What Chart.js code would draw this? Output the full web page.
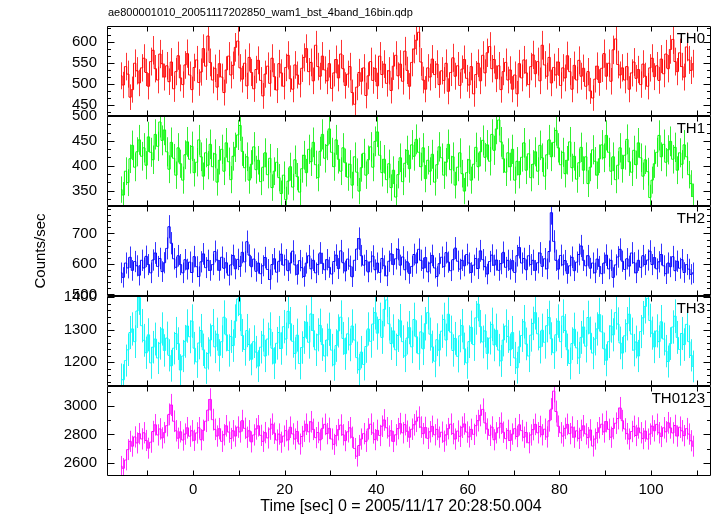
<!DOCTYPE html>
<html>
<head>
<meta charset="utf-8">
<title>ae800001010 WAM light curve</title>
<script src="https://cdn.jsdelivr.net/npm/chart.js@4.4.0/dist/chart.umd.min.js"></script>
<style>
  html, body { margin: 0; padding: 0; background: #fff; }
</style>
</head>
<body>
<canvas id="lc" width="717" height="516"></canvas>
<script>
// 0.5 s bins (16 x 1/32 s), bin centres start at firstBin
const binWidth = 0.5;
const firstBin = -15.75;

const plotTitle = 'ae800001010_20051117202850_wam1_bst_4band_16bin.qdp';
const xLabel = 'Time [sec] 0 = 2005/11/17 20:28:50.004';
const yLabel = 'Counts/sec';

const bandNames = ['TH0', 'TH1', 'TH2', 'TH3', 'TH0123'];

// count rates (counts/sec)
const th0 = [
  519, 497, 541, 523, 468, 486, 549, 531, 502, 538,
  561, 527, 494, 553, 580, 536, 509, 571, 548, 516,
  543, 505, 552, 488, 529, 567, 514, 498, 545, 572,
  521, 486, 539, 557, 503, 528, 584, 542, 614, 551,
  509, 537, 492, 548, 516, 479, 533, 566, 521, 544,
  587, 602, 538, 511, 549, 495, 563, 527, 488, 534,
  556, 508, 471, 523, 542, 501, 561, 517, 485, 548,
  526, 494, 539, 568, 512, 487, 545, 521, 499, 537,
  563, 584, 529, 551, 507, 592, 541, 518, 566, 533,
  507, 548, 489, 526, 558, 514, 571, 536, 496, 523,
  541, 479, 451, 492, 527, 506, 538, 472, 519, 553,
  508, 537, 495, 566, 522, 547, 501, 531, 484, 542,
  568, 519, 547, 506, 578, 532, 494, 551, 583, 604,
  623, 552, 509, 487, 538, 516, 559, 522, 547, 498,
  531, 508, 549, 482, 527, 562, 518, 543, 496, 535,
  558, 513, 497, 541, 476, 522, 549, 507, 568, 526,
  574, 589, 536, 558, 512, 543, 486, 529, 551, 509,
  533, 487, 521, 476, 548, 514, 557, 526, 498, 541,
  569, 524, 553, 507, 592, 545, 518, 563, 502, 539,
  521, 552, 496, 538, 514, 567, 529, 487, 544, 509,
  556, 518, 537, 494, 529, 483, 466, 511, 542, 503,
  537, 572, 518, 549, 506, 581, 607, 546, 521, 538,
  509, 541, 487, 526, 552, 513, 534, 498, 547, 518,
  494, 538, 561, 517, 543, 508, 559, 524, 571, 536,
  582, 606, 553, 529, 574, 541, 516, 588, 557, 532,
  548
];
const th1 = [
  352, 341, 389, 366, 414, 441, 397, 428, 452, 419,
  436, 401, 458, 427, 412, 463, 439, 488, 451, 472,
  428, 393, 447, 415, 381, 436, 404, 371, 422, 448,
  413, 439, 386, 407, 452, 418, 379, 426, 401, 443,
  398, 424, 367, 411, 433, 389, 446, 408, 372, 419,
  437, 462, 481, 429, 396, 418, 371, 403, 438, 392,
  411, 368, 397, 426, 382, 415, 356, 389, 407, 376,
  344, 381, 332, 369, 398, 357, 412, 378, 347, 394,
  421, 386, 433, 408, 447, 402, 376, 429, 463, 415,
  441, 474, 427, 398, 452, 413, 389, 436, 406, 377,
  403, 361, 418, 387, 349, 396, 425, 381, 412, 438,
  397, 449, 468, 421, 386, 413, 372, 404, 356, 391,
  337, 382, 416, 368, 405, 431, 394, 442, 419, 453,
  427, 398, 436, 374, 411, 389, 423, 367, 402, 438,
  416, 381, 407, 443, 392, 418, 361, 397, 426, 384,
  349, 386, 412, 371, 403, 437, 398, 428, 451, 417,
  442, 409, 463, 431, 474, 492, 448, 414, 387, 426,
  398, 433, 371, 409, 382, 417, 446, 391, 424, 376,
  403, 428, 389, 441, 416, 379, 422, 452, 418, 447,
  471, 436, 402, 427, 384, 411, 448, 396, 419, 373,
  406, 437, 391, 418, 364, 397, 432, 409, 381, 414,
  442, 416, 461, 427, 389, 418, 372, 401, 436, 394,
  421, 453, 408, 387, 431, 402, 446, 416, 379, 412,
  388, 336, 371, 404, 427, 461, 418, 443, 407, 432,
  449, 413, 437, 391, 426, 403, 442, 418, 382, 364,
  338
];
const th2 = [
  571, 556, 603, 587, 622, 579, 608, 594, 563, 612,
  587, 625, 598, 571, 613, 636, 592, 618, 575, 604,
  651, 722, 668, 617, 589, 627, 598, 571, 614, 583,
  606, 572, 624, 591, 559, 607, 633, 588, 612, 579,
  598, 641, 613, 579, 622, 586, 604, 563, 597, 628,
  584, 615, 592, 638, 607, 673, 629, 591, 616, 576,
  603, 568, 594, 621, 582, 549, 598, 617, 573, 609,
  632, 596, 614, 578, 603, 642, 597, 566, 611, 588,
  559, 603, 627, 584, 612, 571, 598, 636, 602, 581,
  614, 589, 567, 608, 629, 585, 643, 604, 577, 616,
  593, 558, 612, 649, 683, 627, 596, 611, 574, 607,
  626, 581, 603, 572, 618, 594, 561, 609, 633, 598,
  617, 648, 596, 623, 581, 607, 569, 592, 631, 603,
  648, 612, 586, 621, 574, 603, 628, 587, 559, 601,
  622, 591, 637, 606, 578, 614, 652, 609, 583, 612,
  594, 631, 603, 572, 596, 618, 585, 643, 614, 591,
  567, 608, 629, 596, 613, 579, 601, 638, 589, 612,
  583, 611, 572, 627, 654, 603, 618, 581, 627, 598,
  612, 579, 604, 636, 592, 617, 584, 641, 768, 674,
  612, 583, 628, 597, 611, 569, 594, 622, 578, 606,
  631, 659, 612, 594, 627, 586, 603, 571, 616, 592,
  568, 603, 629, 584, 612, 556, 597, 623, 648, 609,
  582, 617, 593, 636, 604, 571, 612, 589, 627, 598,
  613, 642, 598, 621, 584, 607, 631, 594, 568, 603,
  591, 624, 578, 609, 586, 614, 572, 598, 583, 566,
  571
];
const th3 = [
  1148, 1146, 1205, 1238, 1291, 1302, 1263, 1357, 1398, 1312,
  1267, 1229, 1284, 1198, 1246, 1271, 1213, 1258, 1302, 1236,
  1274, 1221, 1189, 1243, 1288, 1257, 1176, 1219, 1264, 1311,
  1278, 1326, 1243, 1201, 1259, 1297, 1238, 1182, 1227, 1268,
  1312, 1247, 1286, 1221, 1263, 1338, 1284, 1236, 1279, 1251,
  1326, 1394, 1347, 1282, 1239, 1297, 1254, 1209, 1263, 1231,
  1188, 1246, 1283, 1219, 1271, 1302, 1243, 1197, 1258, 1291,
  1242, 1309, 1271, 1356, 1318, 1264, 1227, 1283, 1196, 1245,
  1276, 1323, 1261, 1348, 1297, 1238, 1284, 1313, 1254, 1219,
  1268, 1301, 1237, 1192, 1251, 1296, 1338, 1273, 1226, 1287,
  1253, 1311, 1268, 1214, 1177, 1231, 1193, 1248, 1302, 1264,
  1317, 1352, 1289, 1331, 1276, 1362, 1391, 1318, 1257, 1296,
  1238, 1282, 1327, 1263, 1219, 1274, 1306, 1247, 1331, 1278,
  1226, 1293, 1241, 1318, 1352, 1286, 1247, 1203, 1269, 1237,
  1295, 1331, 1268, 1347, 1292, 1236, 1273, 1218, 1281, 1312,
  1241, 1198, 1263, 1307, 1254, 1336, 1378, 1309, 1262, 1296,
  1227, 1274, 1316, 1253, 1298, 1237, 1204, 1268, 1311, 1279,
  1238, 1291, 1213, 1183, 1247, 1282, 1324, 1256, 1219, 1283,
  1319, 1352, 1287, 1246, 1298, 1261, 1312, 1337, 1272, 1229,
  1284, 1326, 1263, 1341, 1297, 1238, 1196, 1257, 1301, 1244,
  1213, 1276, 1308, 1249, 1337, 1289, 1228, 1271, 1302, 1346,
  1293, 1241, 1206, 1263, 1311, 1284, 1352, 1317, 1259, 1228,
  1281, 1318, 1347, 1286, 1237, 1262, 1219, 1294, 1336, 1371,
  1396, 1328, 1289, 1247, 1296, 1263, 1324, 1271, 1234, 1202,
  1257, 1308, 1341, 1276, 1239, 1288, 1254, 1316, 1263, 1221,
  1187
];
const th0123 = [
  2578, 2563, 2621, 2694, 2752, 2718, 2783, 2741, 2806, 2769,
  2812, 2758, 2704, 2746, 2821, 2868, 2797, 2839, 2776, 2813,
  2862, 2941, 3007, 2893, 2826, 2774, 2819, 2761, 2803, 2847,
  2788, 2826, 2759, 2811, 2847, 2763, 2829, 2893, 2971, 3046,
  2904, 2836, 2789, 2841, 2752, 2798, 2861, 2817, 2772, 2826,
  2789, 2852, 2818, 2897, 2843, 2781, 2826, 2748, 2797, 2839,
  2861, 2794, 2752, 2813, 2776, 2838, 2872, 2809, 2761, 2803,
  2746, 2789, 2827, 2762, 2851, 2804, 2768, 2821, 2733, 2786,
  2823, 2872, 2819, 2889, 2836, 2778, 2814, 2762, 2843, 2871,
  2806, 2843, 2768, 2731, 2792, 2834, 2866, 2798, 2757, 2819,
  2847, 2781, 2702, 2648, 2723, 2768, 2806, 2752, 2839, 2872,
  2811, 2764, 2829, 2793, 2858, 2902, 2847, 2789, 2826, 2751,
  2798, 2841, 2876, 2812, 2869, 2823, 2781, 2837, 2868, 2893,
  2921, 2852, 2806, 2849, 2773, 2819, 2857, 2798, 2836, 2782,
  2816, 2753, 2797, 2841, 2872, 2806, 2768, 2824, 2787, 2851,
  2874, 2817, 2783, 2836, 2801, 2862, 2897, 2934, 2976, 2881,
  2838, 2794, 2852, 2763, 2812, 2847, 2879, 2816, 2771, 2829,
  2758, 2803, 2841, 2786, 2868, 2827, 2781, 2814, 2742, 2797,
  2834, 2871, 2812, 2856, 2798, 2837, 2783, 2896, 2978, 3104,
  2961, 2858, 2812, 2789, 2843, 2871, 2806, 2852, 2781, 2826,
  2773, 2829, 2861, 2804, 2778, 2832, 2719, 2768, 2813, 2847,
  2872, 2818, 2891, 2836, 2781, 2842, 2879, 2912, 2986, 2897,
  2839, 2806, 2768, 2821, 2857, 2793, 2846, 2812, 2771, 2824,
  2768, 2803, 2859, 2826, 2871, 2812, 2786, 2847, 2819, 2882,
  2846, 2811, 2863, 2789, 2851, 2826, 2792, 2841, 2803, 2756,
  2718
];
const bandRates = [th0, th1, th2, th3, th0123];

// axis ranges and labelled ticks
const xRange = [-18.8, 113.1];
const xTickLabels = [0, 20, 40, 60, 80, 100];
const yRanges = [[423, 638], [319, 500], [495, 790], [1127, 1403], [2509, 3140]];
const yTickLabels = [
  [450, 500, 550, 600],
  [350, 400, 450, 500],
  [500, 600, 700],
  [1200, 1300, 1400],
  [2600, 2800, 3000]
];
const minorDiv = [3, 3, 5, 5, 2];

const lineColors = ['#ff0000', '#00ff00', '#0000ff', '#00ffff', '#ff00ff'];
const errColors = ['rgba(255,0,0,0.8)', 'rgba(0,235,0,0.8)', 'rgba(0,0,255,0.8)',
                   'rgba(0,240,240,0.85)', 'rgba(255,0,255,0.8)'];

const FONT = "'Liberation Sans', Arial, Helvetica, sans-serif";

const times = th0.map((_, i) => firstBin + i * binWidth);

// error bars: Poisson error on the rate in each bin
const errorBars = {
  id: 'errorBars',
  beforeDatasetsDraw(chart) {
    const ctx = chart.ctx;
    const xs = chart.scales.x;
    chart.data.datasets.forEach((ds, k) => {
      const ys = chart.scales[ds.yAxisID];
      ctx.save();
      ctx.beginPath();
      ctx.rect(xs.left, ys.top, xs.right - xs.left, ys.bottom - ys.top);
      ctx.clip();
      ctx.strokeStyle = errColors[k];
      ctx.lineWidth = 1;
      ctx.beginPath();
      ds.data.forEach(p => {
        const err = Math.sqrt(p.y / binWidth);
        const px = Math.round(xs.getPixelForValue(p.x)) + 0.5;
        ctx.moveTo(px, ys.getPixelForValue(p.y + err));
        ctx.lineTo(px, ys.getPixelForValue(p.y - err));
      });
      ctx.stroke();
      ctx.restore();
    });
  }
};

// qdp style frames, inward ticks and the text labels
const qdpFrame = {
  id: 'qdpFrame',
  afterDraw(chart) {
    const ctx = chart.ctx;
    const xs = chart.scales.x;
    const L = Math.round(xs.left) + 0.5;
    const R = Math.round(xs.right) - 0.5;
    ctx.save();
    ctx.strokeStyle = '#000';
    ctx.lineWidth = 1;
    bandNames.forEach((name, k) => {
      const ys = chart.scales['y' + k];
      const T = Math.round(ys.top) + 0.5;
      const B = Math.round(ys.bottom) - 0.5;
      ctx.beginPath();
      ctx.rect(L, T, R - L, B - T);
      // x ticks every 10 s on top and bottom
      for (let t = -10; t <= xRange[1]; t += 10) {
        const px = Math.round(xs.getPixelForValue(t)) + 0.5;
        ctx.moveTo(px, T); ctx.lineTo(px, T + 5);
        ctx.moveTo(px, B); ctx.lineTo(px, B - 5);
      }
      // y major and minor ticks on both sides
      const labs = yTickLabels[k];
      const step = (labs[1] - labs[0]) / minorDiv[k];
      let v = labs[0];
      while (v - step >= yRanges[k][0]) v -= step;
      for (; v <= yRanges[k][1] + 1e-6; v += step) {
        const isMajor = labs.some(m => Math.abs(m - v) < 1e-6);
        const len = isMajor ? 7 : 3.5;
        const py = Math.round(ys.getPixelForValue(v)) + 0.5;
        ctx.moveTo(L, py); ctx.lineTo(L + len, py);
        ctx.moveTo(R, py); ctx.lineTo(R - len, py);
      }
      ctx.stroke();

      ctx.fillStyle = '#000';
      ctx.font = '15px ' + FONT;
      ctx.textAlign = 'right';
      ctx.textBaseline = 'alphabetic';
      ctx.fillText(name, xs.right - 6, ys.top + 17);
    });

    ctx.fillStyle = '#000';
    ctx.font = '11px ' + FONT;
    ctx.textAlign = 'left';
    ctx.textBaseline = 'middle';
    ctx.fillText(plotTitle, 108, 13);

    ctx.font = '16px ' + FONT;
    ctx.textAlign = 'center';
    ctx.fillText(xLabel, 401, 507);

    ctx.translate(41, 251);
    ctx.rotate(-Math.PI / 2);
    ctx.font = '15px ' + FONT;
    ctx.fillText(yLabel, 0, 0);
    ctx.restore();
  }
};

const plainNumber = v => String(v);

const scales = {
  x: {
    type: 'linear',
    position: 'bottom',
    min: xRange[0],
    max: xRange[1],
    grid: { display: false, drawTicks: false },
    border: { display: false },
    ticks: { padding: 5, color: '#000', font: { family: FONT, size: 15 }, maxRotation: 0, autoSkip: false, callback: plainNumber },
    afterBuildTicks: s => { s.ticks = xTickLabels.map(v => ({ value: v })); },
    afterFit: s => { s.height = 40; }
  }
};
bandNames.forEach((name, k) => {
  scales['y' + k] = {
    type: 'linear',
    position: 'left',
    stack: 'bands',
    stackWeight: 1,
    weight: bandNames.length - k,
    min: yRanges[k][0],
    max: yRanges[k][1],
    grid: { display: false, drawTicks: false },
    border: { display: false },
    ticks: { padding: 10, color: '#000', font: { family: FONT, size: 15 }, autoSkip: false, callback: plainNumber },
    afterBuildTicks: s => { s.ticks = yTickLabels[k].map(v => ({ value: v })); },
    afterFit: s => { s.width = 107; }
  };
});

const datasets = bandNames.map((name, k) => ({
  label: name,
  data: times.map((t, i) => ({ x: t, y: bandRates[k][i] })),
  xAxisID: 'x',
  yAxisID: 'y' + k,
  borderColor: lineColors[k],
  borderWidth: 1,
  pointRadius: 0,
  stepped: 'middle',
  fill: false
}));

new Chart(document.getElementById('lc'), {
  type: 'line',
  data: { datasets },
  options: {
    responsive: false,
    animation: false,
    layout: { padding: { top: 26, right: 6, bottom: 0, left: 0 } },
    plugins: { legend: { display: false }, tooltip: { enabled: false }, title: { display: false } },
    scales
  },
  plugins: [errorBars, qdpFrame]
});
</script>
</body>
</html>
